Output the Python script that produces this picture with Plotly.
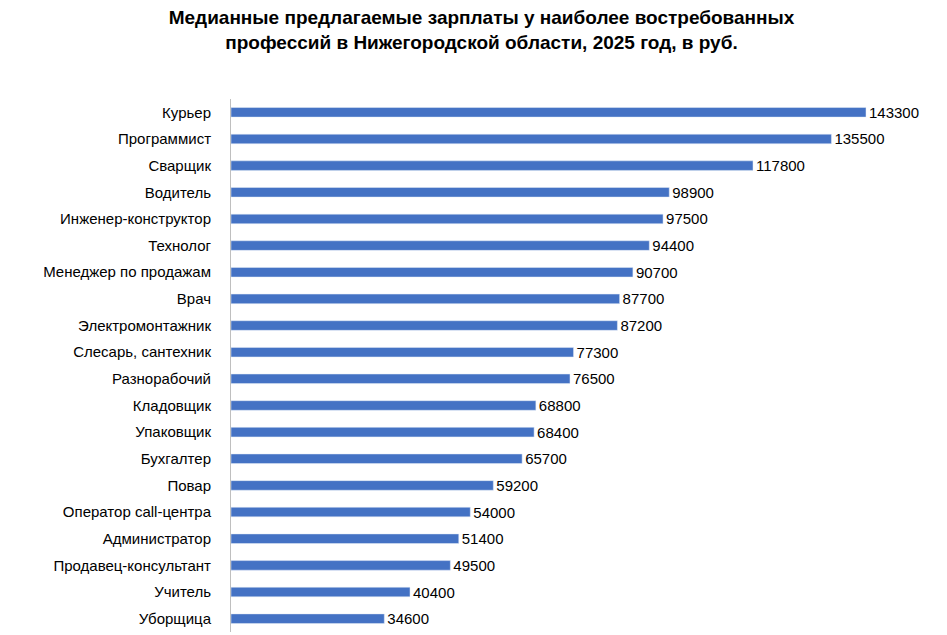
import plotly.graph_objects as go

categories = ["Курьер","Программист","Сварщик","Водитель","Инженер-конструктор","Технолог",
              "Менеджер по продажам","Врач","Электромонтажник","Слесарь, сантехник","Разнорабочий",
              "Кладовщик","Упаковщик","Бухгалтер","Повар","Оператор call-центра","Администратор",
              "Продавец-консультант","Учитель","Уборщица"]
values = [143300,135500,117800,98900,97500,94400,90700,87700,87200,77300,76500,
          68800,68400,65700,59200,54000,51400,49500,40400,34600]

fig = go.Figure(go.Bar(
    x=values, y=categories, orientation="h", width=0.36,
    marker_color="#4472C4", text=[str(v) for v in values], textposition="outside",
    constraintext="none",
    textfont=dict(size=15, color="#000000"), cliponaxis=False))
fig.update_layout(
    width=947, height=635, plot_bgcolor="white", paper_bgcolor="white",
    font=dict(family="Liberation Sans, Arial", size=15, color="#000000"),
    margin=dict(l=223, r=15, t=91, b=11),
    showlegend=False,
    title=dict(text="<b>Медианные предлагаемые зарплаты у наиболее востребованных<br>профессий в Нижегородской области, 2025 год, в руб.</b>",
               x=0.5, xanchor="center", yref="container", y=0.975, yanchor="top", font=dict(size=19)),
    xaxis=dict(range=[0,160000], visible=False, automargin=False),
    yaxis=dict(autorange="reversed", showline=True, linecolor="#BFBFBF", linewidth=1,
               ticks="outside", ticklen=16, tickcolor="rgba(0,0,0,0)", automargin=False,
               tickfont=dict(size=15)),
)
fig.write_html("out.html")
